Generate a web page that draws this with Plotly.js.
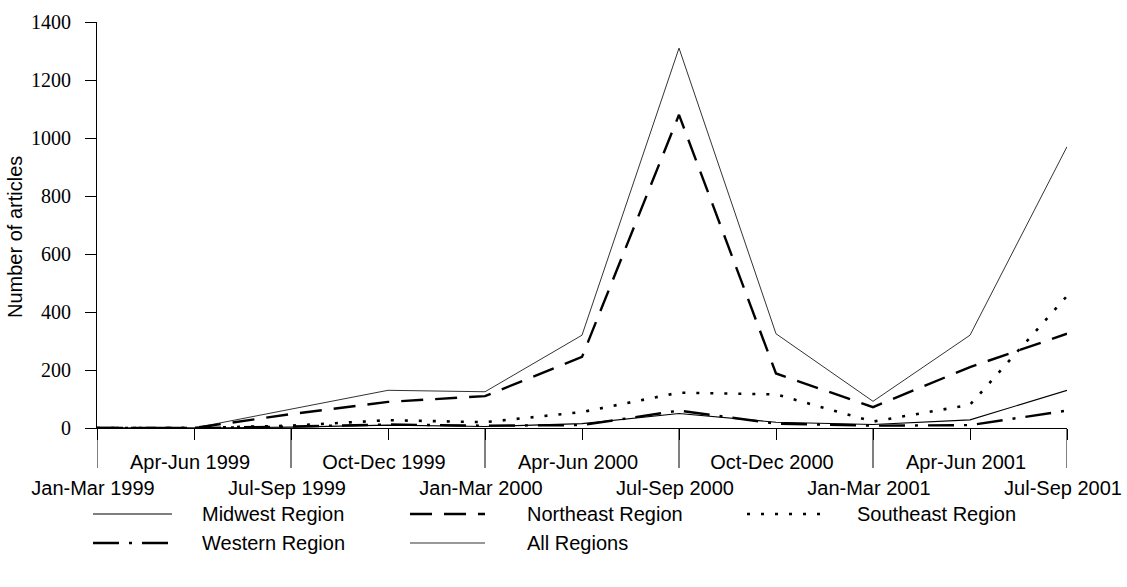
<!DOCTYPE html>
<html>
<head>
<meta charset="utf-8">
<script src="https://cdn.plot.ly/plotly-3.0.1.min.js"></script>
<style>html,body{margin:0;padding:0;background:#fff;}#chart{width:1127px;height:587px;}</style>
</head>
<body>
<div id="chart"></div>
<script>
// ---- data ----
const categories = ["Jan-Mar 1999","Apr-Jun 1999","Jul-Sep 1999","Oct-Dec 1999","Jan-Mar 2000","Apr-Jun 2000","Jul-Sep 2000","Oct-Dec 2000","Jan-Mar 2001","Apr-Jun 2001","Jul-Sep 2001"];
const midwest   = [0, 0, 3, 10, 5, 15, 50, 20, 12, 28, 130];
const northeast = [0, 0, 48, 90, 110, 245, 1080, 188, 72, 210, 325];
const southeast = [0, 0, 8, 27, 20, 55, 122, 116, 22, 80, 455];
const western   = [0, 0, 5, 12, 8, 10, 60, 15, 8, 10, 60];
const allRegions= [0, 0, 65, 130, 125, 320, 1310, 325, 92, 320, 970];
const seriesNames = ["Midwest Region","Northeast Region","Southeast Region","Western Region","All Regions"];
const yTitle = "Number of articles";

// ---- styles ----
const FONT = "Liberation Sans";
const SERIF = "Liberation Serif";
const styles = {
  "Midwest Region":   {color:"#000", width:1.1, dash:"solid"},
  "Northeast Region": {color:"#000", width:2.4, dash:"22px,12px"},
  "Southeast Region": {color:"#000", width:2.6, dash:"3px,11px"},
  "Western Region":   {color:"#000", width:2.4, dash:"26px,10px,3px,10px"},
  "All Regions":      {color:"#333", width:1.0, dash:"solid"}
};
const values = {
  "Midwest Region": midwest, "Northeast Region": northeast,
  "Southeast Region": southeast, "Western Region": western, "All Regions": allRegions
};

const drawOrder = ["All Regions","Midwest Region","Western Region","Southeast Region","Northeast Region"];
const traces = drawOrder.map(n => ({
  type:"scatter", mode:"lines", name:n, x:categories, y:values[n],
  line:{color:styles[n].color, width:styles[n].width, dash:styles[n].dash},
  showlegend:false, hoverinfo:"skip"
}));

// plot geometry (pixels)
const W = 1127, H = 587, L = 97, R = 60, T = 22, B = 159;
const PW = W - L - R, PH = H - T - B;
const px2x = px => (px - L) / PW;
const px2y = py => (H - B - py) / PH;

// alternating tick label rows
const tickText = categories.map((c, i) => i % 2 === 0 ? " <br>" + c : c);

const shapes = [];
// long ticks at every other category
categories.forEach((c, i) => {
  if (i % 2 === 0) {
    shapes.push({type:"line", xref:"x", yref:"paper", x0:i, x1:i,
      ysizemode:"pixel", yanchor:0, y0:0, y1:-40,
      line:{color:"#000", width:1}});
  }
});

// custom legend
const legendLayout = [
  {name:"Midwest Region",   sx:93,  ex:172, tx:200, y:514},
  {name:"Northeast Region", sx:410, ex:485, tx:525, y:514},
  {name:"Southeast Region", sx:747, ex:822, tx:855, y:514},
  {name:"Western Region",   sx:93,  ex:172, tx:200, y:543},
  {name:"All Regions",      sx:410, ex:485, tx:525, y:543}
];
const annotations = [];
legendLayout.forEach(it => {
  const s = styles[it.name];
  shapes.push({type:"line", xref:"paper", yref:"paper",
    x0:px2x(it.sx), x1:px2x(it.ex), y0:px2y(it.y), y1:px2y(it.y),
    line:{color:s.color, width:s.width, dash:s.dash}});
  annotations.push({xref:"paper", yref:"paper", x:px2x(it.tx), y:px2y(it.y),
    xanchor:"left", yanchor:"middle", showarrow:false, text:it.name,
    font:{family:FONT, size:20, color:"#000"}});
});
annotations.push({xref:"paper", yref:"paper", x:px2x(15), y:px2y(237),
  xanchor:"center", yanchor:"middle", showarrow:false, textangle:-90,
  text:yTitle, font:{family:FONT, size:20, color:"#000"}});

const layout = {
  width:W, height:H,
  margin:{l:L, r:R, t:T, b:B, pad:0},
  paper_bgcolor:"#fff", plot_bgcolor:"#fff",
  showlegend:false,
  xaxis:{type:"category", categoryorder:"array", categoryarray:categories,
    range:[0, categories.length - 1], autorange:false,
    showline:true, linecolor:"#000", linewidth:1,
    ticks:"outside", ticklen:11, tickcolor:"#000", tickwidth:1,
    tickmode:"array", tickvals:categories, ticktext:tickText, tickangle:0,
    ticklabelstandoff:5, ticklabelshift:-4,
    tickfont:{family:FONT, size:20, color:"#000"},
    showgrid:false, zeroline:false, automargin:false, fixedrange:true},
  yaxis:{range:[0,1400], autorange:false, tick0:0, dtick:200,
    showline:true, linecolor:"#000", linewidth:1,
    ticks:"outside", ticklen:11, tickcolor:"#000", tickwidth:1,
    ticklabelstandoff:10,
    tickfont:{family:SERIF, size:20, color:"#000"},
    showgrid:false, zeroline:false, automargin:false, fixedrange:true},
  shapes:shapes, annotations:annotations
};

Plotly.newPlot("chart", traces, layout, {staticPlot:true, displayModeBar:false});
</script>
</body>
</html>
